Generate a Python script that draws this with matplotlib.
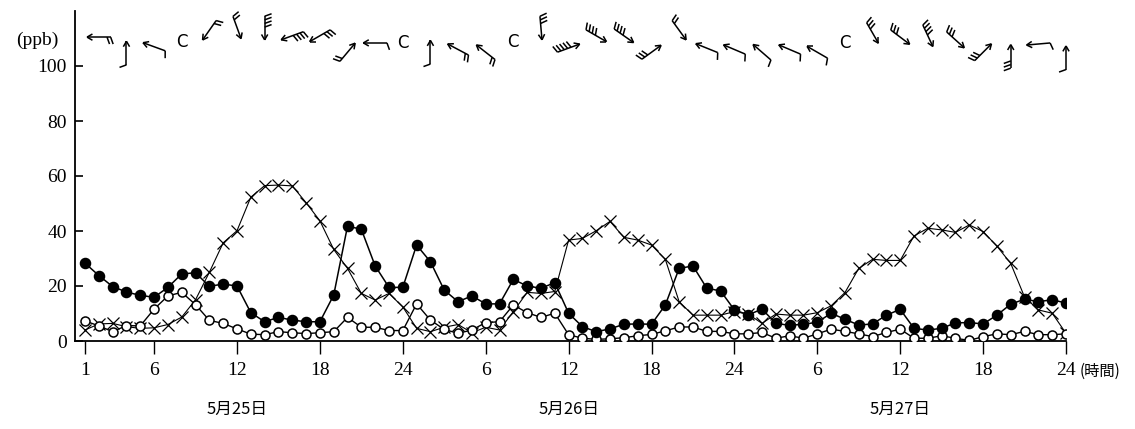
import numpy as np
import matplotlib
matplotlib.use("Agg")
import matplotlib.pyplot as plt
import matplotlib.transforms as mtransforms

plt.rcParams['font.family'] = ['Liberation Serif', 'Noto Sans CJK JP']

# hourly values, 5/25 1h .. 5/27 24h
hours = list(range(1, 73))

filled = [28.3, 23.8, 19.8, 17.8, 16.6, 15.9, 19.5, 24.4, 24.8, 19.9, 20.7, 20.0,
          10.3, 7.0, 8.6, 7.6, 7.0, 7.0, 16.7, 41.8, 40.6, 27.3, 19.5, 19.5,
          34.9, 28.8, 18.5, 14.3, 16.4, 13.5, 13.5, 22.4, 20.0, 19.2, 21.2, 10.1,
          5.2, 3.4, 4.4, 6.1, 6.2, 6.1, 13.1, 26.4, 27.3, 19.2, 18.2, 11.3,
          9.5, 11.6, 6.4, 5.7, 6.1, 6.8, 10.1, 7.9, 5.8, 6.2, 9.4, 11.5,
          4.6, 4.0, 4.6, 6.6, 6.7, 6.2, 9.4, 13.4, 15.2, 14.3, 15.0, 13.8]

hollow = [7.3, 5.5, 3.4, 5.6, 5.5, 11.6, 16.4, 17.7, 13.2, 7.5, 6.4, 4.4,
          2.5, 2.3, 3.4, 3.0, 2.7, 3.0, 3.4, 8.6, 5.0, 5.0, 3.8, 3.8,
          13.5, 7.6, 4.2, 2.8, 4.0, 6.7, 7.0, 13.1, 10.3, 8.6, 10.1, 2.3,
          1.0, 0.6, 0.8, 1.2, 1.9, 2.4, 3.7, 5.1, 5.1, 3.5, 3.5, 2.6,
          2.6, 3.1, 1.0, 1.9, 1.0, 2.6, 4.3, 3.5, 2.6, 1.6, 3.1, 4.3,
          1.0, 1.0, 1.9, 1.0, 0.2, 1.6, 2.6, 2.3, 3.5, 2.3, 2.3, 2.6]

cross = [4.0, 6.2, 6.4, 5.2, 4.6, 4.8, 6.0, 8.7, 15.0, 25.0, 35.7, 40.1,
         52.3, 56.5, 56.7, 56.4, 50.3, 43.7, 33.3, 26.4, 17.3, 14.9, 17.3, 12.4,
         4.6, 3.4, 5.0, 6.0, 3.0, 5.0, 4.0, 10.7, 17.7, 17.3, 18.0, 36.7,
         37.3, 40.1, 43.5, 37.7, 36.7, 34.9, 29.7, 14.3, 9.4, 9.4, 9.4, 10.7,
         9.8, 6.4, 9.8, 9.4, 9.4, 10.3, 12.8, 17.6, 26.4, 29.7, 29.3, 29.3,
         38.2, 41.0, 40.4, 39.5, 42.2, 39.8, 34.5, 28.2, 16.0, 11.3, 10.1, 2.8]

tick_pos = [1, 6, 12, 18, 24, 30, 36, 42, 48, 54, 60, 66, 72]
tick_lab = ["1", "6", "12", "18", "24", "6", "12", "18", "24", "6", "12", "18", "24"]
day_pos = [12, 36, 60]
day_lab = ["5月25日", "5月26日", "5月27日"]

# wind: arrow heading (deg, ccw from east), feathers, plotting level; None = calm
wind_hours = list(range(2, 73, 2))
wind_angle = [180, 90, 160, None, 235, 290, 270, 200, 210, 50, 180, None,
              90, 152, 142, None, 275, 20, 330, 325, 36, 306, 158, 157,
              139, 157, 150, None, 300, 323, 295, 318, 45, 90, 185, 90]
wind_feather = [2, 1, 1, 0, 2, 2, 4, 4, 3, 2, 1, 0,
                1, 2, 2, 0, 3, 5, 4, 4, 3, 2, 1, 1,
                1, 1, 1, 0, 3, 3, 4, 3, 3, 3, 1, 1]
wind_level = [110.5, 104.7, 107, 108.7, 113, 114, 113.8, 111, 111, 105, 108.4, 108.4,
              105, 106, 105, 108.7, 113.8, 106.5, 111, 111, 105, 113, 106.5, 106,
              105, 106, 105, 108.4, 112, 110.5, 111, 109.5, 105, 103.5, 108, 103]

fig = plt.figure(figsize=(11.35, 4.29), dpi=100)
ax = fig.add_axes([75 / 1135, 88 / 429, 991 / 1135, 330 / 429])

ax.plot(hours, cross, color='black', lw=0.8, marker='x', ms=8.5, mew=0.9, zorder=2)
ax.plot(hours, hollow, color='black', lw=1.0, marker='o', ms=6.5, mfc='white',
        mec='black', mew=1.1, zorder=3)
ax.plot(hours, filled, color='black', lw=1.1, marker='o', ms=7.3, mfc='black',
        mec='black', zorder=4)

ax.set_xlim(0.275, 72)
ax.set_ylim(0, 120)
ax.spines['top'].set_visible(False)
ax.spines['right'].set_visible(False)
ax.spines['left'].set_linewidth(1.3)
ax.spines['bottom'].set_linewidth(1.3)

ax.set_yticks([0, 20, 40, 60, 80, 100])
ax.tick_params(axis='y', direction='in', length=6, width=1.2, labelsize=14, pad=6)
ax.set_xticks(tick_pos)
ax.set_xticklabels(tick_lab)
ax.tick_params(axis='x', direction='out', length=9, width=1.0, labelsize=14, pad=6)


def draw_barb(x, y, ang, n):
    tr = (mtransforms.Affine2D().scale(fig.dpi / 72.0)
          + mtransforms.ScaledTranslation(x, y, ax.transData))
    a = np.deg2rad(ang)
    d = np.array([np.cos(a), np.sin(a)])
    side = np.array([-np.sin(a), np.cos(a)])
    L = 17.0
    tip = d * L / 2
    tail = -d * L / 2
    kw = dict(color='black', lw=1.1, transform=tr, clip_on=False, solid_capstyle='butt')
    ax.plot([tail[0], tip[0]], [tail[1], tip[1]], **kw)
    for s in (1, -1):
        r = np.deg2rad(150 * s)
        hd = np.array([d[0] * np.cos(r) - d[1] * np.sin(r),
                       d[0] * np.sin(r) + d[1] * np.cos(r)])
        e = tip + hd * 4.5
        ax.plot([tip[0], e[0]], [tip[1], e[1]], **kw)
    for k in range(n):
        base = tail + d * (k * 2.6)
        end = base + side * 5.0 - d * 1.8
        ax.plot([base[0], end[0]], [base[1], end[1]], **kw)


for h, a, n, lv in zip(wind_hours, wind_angle, wind_feather, wind_level):
    if a is None:
        ax.text(h, lv, "C", fontsize=12, ha='center', va='center',
                family=['DejaVu Sans'], clip_on=False)
    else:
        draw_barb(h, lv, a, n)

fig.text(37 / 1135, 1 - 40 / 429, "(ppb)", fontsize=14, ha='center', va='center')
fig.text(1100 / 1135, 1 - 371 / 429, "(時間)", fontsize=11, ha='center', va='center',
         family=['Noto Sans CJK JP'])

btr = mtransforms.blended_transform_factory(ax.transData, fig.transFigure)
for p, lab in zip(day_pos, day_lab):
    ax.text(p, 1 - 409 / 429, lab, transform=btr, fontsize=12, ha='center',
            va='center', family=['Noto Sans CJK JP'])

fig.savefig("out.png", dpi=100)
